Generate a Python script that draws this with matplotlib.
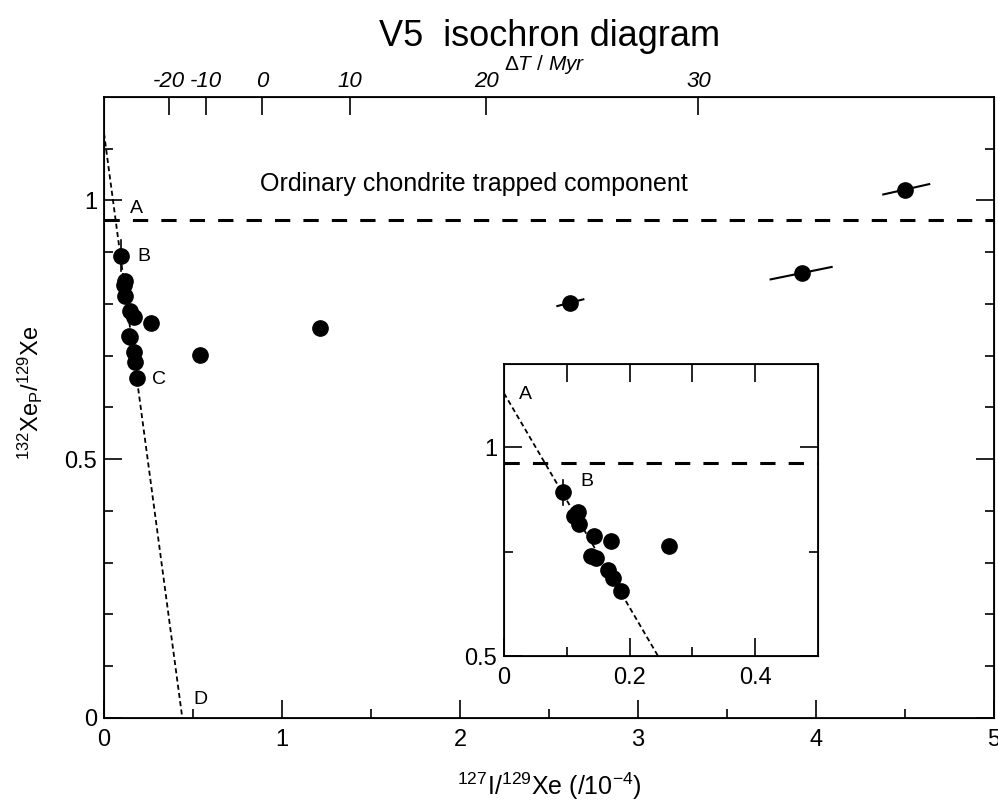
import matplotlib
matplotlib.use("Agg")
import matplotlib.pyplot as plt
import numpy as np

plt.rcParams["font.family"] = ["Liberation Sans", "DejaVu Sans"]
plt.rcParams["mathtext.fontset"] = "custom"
plt.rcParams["mathtext.rm"] = "Liberation Sans"
plt.rcParams["mathtext.it"] = "Liberation Sans:italic"

# 127I/129Xe (x 1e-4) and 132Xe_P/129Xe for each release step
ratio_i = [0.094, 0.111, 0.118, 0.119, 0.139, 0.144, 0.146, 0.166, 0.171,
           0.173, 0.186, 0.263, 0.539, 1.213, 2.618, 3.92, 4.50]
ratio_xe = [0.893, 0.836, 0.845, 0.816, 0.739, 0.787, 0.736, 0.707, 0.775,
            0.687, 0.656, 0.764, 0.702, 0.754, 0.802, 0.860, 1.020]

# correlated error segments for the high-ratio steps
err_x_lo = [2.547, 3.745, 4.378]
err_x_hi = [2.693, 4.088, 4.636]
err_y_lo = [0.796, 0.8475, 1.0116]
err_y_hi = [0.809, 0.8715, 1.0316]
err_b = 0.03  # vertical error on the first step (B)

# isochron: intercept on each axis
iso_y0 = 1.13
iso_x0 = 0.44
trapped = 0.963  # ordinary chondrite trapped 132Xe/129Xe

# age scale on the top axis
dt_ticks = [-20, -10, 0, 10, 20, 30]
x_ref = 0.888
tau = 15.7 / np.log(2)

LAB = 17

fig = plt.figure(figsize=(9.98, 8.06), dpi=100)
ax = fig.add_axes([0.1042, 0.1092, 0.8918, 0.7705])


def draw(a):
    a.plot([0, iso_x0], [iso_y0, 0], color="k", lw=1.3, dashes=(2.8, 1.8))
    a.axhline(trapped, color="k", lw=2.2, dashes=(5, 4.3))
    a.plot(ratio_i, ratio_xe, "o", color="k", ms=11, zorder=5)
    a.plot([ratio_i[0]] * 2, [ratio_xe[0] - err_b, ratio_xe[0] + err_b],
           color="k", lw=1.2, zorder=4)
    for x1, x2, y1, y2 in zip(err_x_lo, err_x_hi, err_y_lo, err_y_hi):
        a.plot([x1, x2], [y1, y2], color="k", lw=1.5, zorder=4)
    for s in a.spines.values():
        s.set_linewidth(1.3)


draw(ax)
ax.set_xlim(0, 5)
ax.set_ylim(0, 1.2)
ax.set_xticks([0, 1, 2, 3, 4, 5])
ax.set_xticks(np.arange(0.5, 5, 1.0), minor=True)
ax.set_yticks([0, 0.5, 1.0])
ax.set_yticklabels(["0", "0.5", "1"])
ax.set_yticks([0.1, 0.2, 0.3, 0.4, 0.6, 0.7, 0.8, 0.9, 1.1], minor=True)
ax.tick_params(which="both", direction="in", top=False, right=True,
               labelsize=LAB, width=1.2)
ax.tick_params(which="major", length=13)
ax.tick_params(which="minor", length=6.5)
ax.tick_params(axis="x", which="both", pad=8)
ax.tick_params(axis="y", which="both", pad=5)
ax.set_xlabel(r"$^{127}$I/$^{129}$Xe (/10$^{-4}$)", fontsize=18, labelpad=14)
ax.set_ylabel(r"$^{132}$Xe$_{\mathrm{P}}$/$^{129}$Xe", fontsize=17)
ax.yaxis.set_label_coords(-0.066, 0.523)

ax.text(2.08, 1.031, "Ordinary chondrite trapped component", fontsize=18,
        ha="center", va="center")
ax.text(0.146, 0.985, "A", fontsize=14, va="center")
ax.text(0.185, 0.891, "B", fontsize=14, va="center")
ax.text(0.268, 0.655, "C", fontsize=14, va="center")
ax.text(0.50, 0.035, "D", fontsize=14, va="center")

# top axis: time difference from the isochron slope
top = ax.twiny()
top.set_xlim(ax.get_xlim())
top.set_xticks(x_ref * np.exp(np.array(dt_ticks) / tau))
top.set_xticklabels([str(t) for t in dt_ticks], style="italic")
top.tick_params(direction="in", length=13, width=1.2, labelsize=16, pad=3.5)
top.xaxis.set_minor_locator(plt.NullLocator())

fig.text(0.551, 1 - 36 / 806, "V5  isochron diagram", fontsize=26,
         ha="center", va="center")
fig.text(0.546, 1 - 64 / 806, r"$\Delta T$ / $Myr$", fontsize=15,
         ha="center", va="center")

# zoom on the low-ratio cluster
ins = fig.add_axes([0.505, 0.1861, 0.3146, 0.3623])
draw(ins)
ins.text(0.024, 1.127, "A", fontsize=14, va="center")
ins.text(0.122, 0.919, "B", fontsize=14, va="center")
ins.set_xlim(0, 0.5)
ins.set_ylim(0.5, 1.2)
ins.set_xticks([0, 0.2, 0.4])
ins.set_xticklabels(["0", "0.2", "0.4"])
ins.set_xticks([0.1, 0.3], minor=True)
ins.set_yticks([0.5, 1.0])
ins.set_yticklabels(["0.5", "1"])
ins.set_yticks([0.75], minor=True)
ins.tick_params(which="both", direction="in", top=False, right=True,
                labelsize=LAB, width=1.2)
ins.tick_params(which="major", length=13)
ins.tick_params(which="minor", length=6.5)
ins.tick_params(axis="x", which="both", pad=8)
ins.tick_params(axis="y", which="both", pad=5)
ins_top = ins.twiny()
ins_top.set_xlim(ins.get_xlim())
ins_top.set_xticks([0.1, 0.2, 0.3, 0.4])
ins_top.tick_params(direction="in", length=13, width=1.2, labeltop=False)

fig.savefig("out.png", dpi=100)
